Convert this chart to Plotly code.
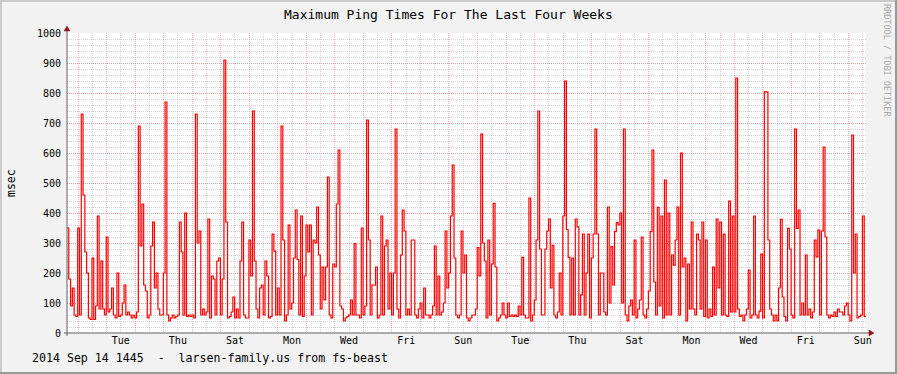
import plotly.graph_objects as go
import pandas as pd

# ---- data: maximum ping time (msec), 1.5 h steps, Aug 17 14:45 -> Sep 14 14:45 ----
ping_part1 = [350, 180, 90, 150, 60, 55, 350, 60, 730,
              460, 270, 200, 50, 45, 250, 45, 90, 390, 80, 240, 80, 60, 320, 70, 80,
              150, 60, 50, 200, 55, 60, 100, 160, 60, 70, 60, 50, 60, 50, 70,
              690, 290, 430, 160, 140, 50, 60, 290, 370, 150, 200, 80, 60, 60, 200,
              770, 60, 40, 50, 60, 50, 55, 60, 370, 270, 60, 400, 55, 60, 55, 60, 50,
              730, 300, 340]
ping_part2 = [60, 80, 60, 70, 380, 50, 190, 180, 60, 240, 250, 60, 180,
              910, 370, 50, 55, 70, 120, 50, 80, 50, 240, 370, 60, 50, 50, 310, 190,
              740, 240, 80, 50, 150, 160, 60, 240, 190, 50, 55, 330, 273, 60, 150, 60,
              690, 310, 40, 60, 360, 80, 100, 250, 410, 245, 60, 390, 55, 190, 360, 270,
              360, 60, 310, 300, 420, 260, 80, 220, 110, 220,
              520, 60, 50, 230]
ping_part3 = [220, 430, 610, 90, 80, 40, 50, 55, 60, 110, 60, 298, 60, 60, 50, 350, 60, 90,
              710, 310, 60, 160, 160, 220, 50, 60, 390, 60, 290, 310, 80, 200, 60, 200,
              680, 80, 50, 260, 410, 340, 60, 80, 60, 310, 310, 60, 50, 80, 100, 50,
              150, 60, 60, 50, 60, 90, 290, 60, 190, 60, 70, 100, 340, 150, 200, 390,
              560, 250, 60, 50, 60, 340, 200, 260, 50]
ping_part4 = [40, 50, 60, 60, 80, 285, 190,
              663, 300, 240, 50, 310, 60, 230, 432, 220, 40, 50, 60, 100, 60, 50, 100,
              55, 60, 55, 60, 55, 90, 60, 252, 60, 50, 50,
              450, 40, 60, 110, 310,
              740, 280, 60, 60, 280, 340, 380, 150, 292, 60, 50, 70, 200, 60, 390,
              840, 345, 252, 60, 250, 60, 380, 354, 60, 127, 330, 60, 200, 330, 50, 250, 330,
              680, 330, 60, 200]
ping_part5 = [200, 70, 60, 420, 100, 288, 160, 338, 368, 360, 400, 100,
              680, 60, 40, 90, 110, 60, 310, 50, 80, 110, 320, 60, 50, 80, 140, 338,
              610, 170, 60, 419, 90, 390, 50,
              510, 60, 400, 60, 260, 226, 310, 420, 60,
              600, 220, 250, 40, 230, 80, 370, 80, 60, 330, 310, 80, 370, 55, 310, 50,
              80, 55, 220, 60, 380, 150, 370, 60, 330, 60, 55,
              440, 70, 390, 70]
ping_part6 = [850, 80, 55, 60, 40, 60, 80, 210, 50, 60, 390, 60, 50, 73, 263, 50, 804, 804,
              310, 80, 60, 40, 60, 40, 150, 379, 120, 55, 40, 349, 280, 60, 50,
              680, 349, 410, 60, 100, 60, 260, 60, 80, 50, 70, 310, 254, 343, 60, 340,
              620, 320, 60, 50, 60, 55, 70, 55, 80, 70, 70, 60, 90, 100, 60, 40,
              660, 200, 330, 50, 55, 60,
              390, 55]

ping_ms = ping_part1 + ping_part2 + ping_part3 + ping_part4 + ping_part5 + ping_part6

start_time = pd.Timestamp("2014-08-17 14:45")
end_time = pd.Timestamp("2014-09-14 14:45")
step = (end_time - start_time) / len(ping_ms)
times = [start_time + i * step for i in range(len(ping_ms))] + [end_time]
values = ping_ms + [ping_ms[-1]]

label_days = list(pd.date_range("2014-08-19 12:00", "2014-09-14 12:00", freq="2D"))
label_text = [d.strftime("%a") for d in label_days]

y_ticks = list(range(0, 1001, 100))

title_text = "Maximum Ping Times For The Last Four Weeks"
footer_text = "2014 Sep 14 1445  -  larsen-family.us from fs-beast"
watermark = "RRDTOOL / TOBI OETIKER"
y_title = "msec"

# ---- layout geometry (pixels) ----
W, H = 897, 374
L, R, T, B = 67, 31, 33, 41
PW, PH = W - L - R, H - T - B
MONO = "DejaVu Sans Mono"


def px(x):
    return (x - L) / PW


def py(y):
    return (H - B - y) / PH


fig = go.Figure()
fig.add_trace(go.Scatter(x=times, y=values, mode="lines",
                         line=dict(color="#FF0000", width=1.2, shape="hv"),
                         hoverinfo="skip", showlegend=False))
fig.add_trace(go.Scatter(x=[], y=[], xaxis="x2", showlegend=False, hoverinfo="skip"))

major_grid = "rgba(230,130,130,0.6)"
minor_grid = "rgba(160,160,160,0.45)"

fig.update_layout(
    width=W, height=H,
    margin=dict(l=L, r=R, t=T, b=B, pad=0, autoexpand=False),
    paper_bgcolor="#F2F2F2",
    plot_bgcolor="#FFFFFF",
    showlegend=False,
    hovermode=False,
    font=dict(family=MONO, size=10, color="#000000"),
    xaxis=dict(
        type="date", range=[start_time, end_time],
        showticklabels=False, ticks="", zeroline=False, showline=False,
        tick0="2014-08-18 00:00", dtick=86400000,
        showgrid=True, gridcolor=major_grid, griddash="1px,1px", gridwidth=1,
        minor=dict(tick0="2014-08-18 00:00", dtick=43200000, showgrid=True,
                   gridcolor=minor_grid, griddash="1px,1px", gridwidth=1),
    ),
    xaxis2=dict(
        type="date", range=[start_time, end_time], overlaying="x", anchor="y",
        side="bottom", tickmode="array", tickvals=label_days, ticktext=label_text,
        showgrid=False, ticks="", zeroline=False, showline=False,
        tickfont=dict(family=MONO, size=10, color="#000000"),
    ),
    yaxis=dict(
        range=[0, 1000], tickmode="array", tickvals=y_ticks,
        ticks="", zeroline=False, showline=False, ticklabelstandoff=5,
        tickfont=dict(family=MONO, size=10, color="#000000"),
        showgrid=True, gridcolor=major_grid, griddash="1px,1px", gridwidth=1,
        minor=dict(dtick=20, showgrid=True, gridcolor=minor_grid,
                   griddash="1px,1px", gridwidth=1),
    ),
)

shapes = []
# frame shading
shapes.append(dict(type="line", xref="paper", yref="paper", x0=px(0), x1=px(W), y0=py(1), y1=py(1),
                   line=dict(color="#CBCBCB", width=2)))
shapes.append(dict(type="line", xref="paper", yref="paper", x0=px(1), x1=px(1), y0=py(0), y1=py(H),
                   line=dict(color="#CBCBCB", width=2)))
shapes.append(dict(type="line", xref="paper", yref="paper", x0=px(0), x1=px(W), y0=py(H - 1), y1=py(H - 1),
                   line=dict(color="#999999", width=2)))
shapes.append(dict(type="line", xref="paper", yref="paper", x0=px(W - 1), x1=px(W - 1), y0=py(0), y1=py(H),
                   line=dict(color="#999999", width=2)))
# axis lines
shapes.append(dict(type="line", xref="paper", yref="paper", x0=px(L), x1=px(L), y0=py(H - B + 3), y1=py(T - 5),
                   line=dict(color="#606060", width=1)))
shapes.append(dict(type="line", xref="paper", yref="paper", x0=px(L - 3), x1=px(W - R + 5), y0=0, y1=0,
                   line=dict(color="#606060", width=1)))


def tri(points):
    d = "M " + " L ".join(f"{px(a):.5f},{py(b):.5f}" for a, b in points) + " Z"
    return dict(type="path", xref="paper", yref="paper", path=d,
                fillcolor="#8B1A1A", line=dict(color="#8B1A1A", width=0.5))


shapes.append(tri([(L - 3, T - 2), (L + 3, T - 2), (L, T - 7)]))
shapes.append(tri([(W - R + 3, H - B - 3), (W - R + 3, H - B + 3), (W - R + 8, H - B)]))
fig.update_layout(shapes=shapes)

annotations = [
    dict(text=title_text, x=px(W / 2), y=py(14), xref="paper", yref="paper",
         showarrow=False, xanchor="center", yanchor="middle",
         font=dict(family=MONO, size=13, color="#000000")),
    dict(text=y_title, x=px(11), y=py(183), xref="paper", yref="paper",
         showarrow=False, xanchor="center", yanchor="middle", textangle=-90,
         font=dict(family=MONO, size=11.5, color="#000000")),
    dict(text=watermark, x=px(887), y=py(60), xref="paper", yref="paper",
         showarrow=False, xanchor="center", yanchor="middle", textangle=90,
         font=dict(family=MONO, size=8.5, color="#A8A8A8")),
    dict(text=footer_text, x=px(30), y=py(358), xref="paper", yref="paper",
         showarrow=False, xanchor="left", yanchor="middle",
         font=dict(family=MONO, size=11.6, color="#000000")),
]
fig.update_layout(annotations=annotations)

fig.write_html("out.html", config={"displayModeBar": False},
               post_script="document.body.style.margin='0';document.body.style.overflow='hidden';")
